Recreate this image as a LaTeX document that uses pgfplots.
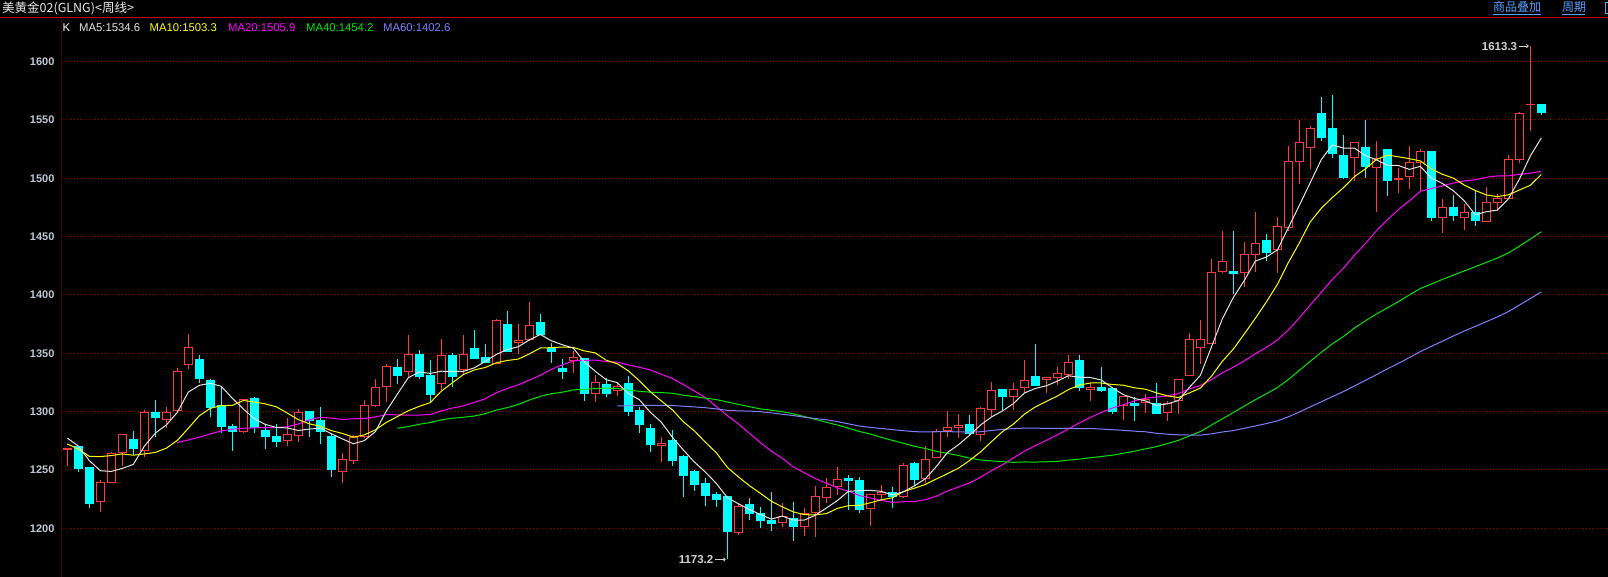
\documentclass[border=0pt]{standalone}
\usepackage{fontspec}
\setmainfont{Liberation Sans}
\newfontfamily\cjk{Noto Sans CJK SC}
\usepackage{pgfplots}
\usepackage{pgfplotstable}
\pgfplotsset{compat=1.18}
\usetikzlibrary{arrows.meta}

\definecolor{upred}{RGB}{255,59,59}
\definecolor{dncyan}{RGB}{0,255,255}
\definecolor{mafive}{RGB}{230,230,230}
\definecolor{maten}{RGB}{255,255,0}
\definecolor{matwenty}{RGB}{255,0,255}
\definecolor{maforty}{RGB}{0,230,0}
\definecolor{masixty}{RGB}{128,128,255}
\definecolor{gridred}{RGB}{150,0,0}
\definecolor{axisred}{RGB}{190,0,0}
\definecolor{ticklab}{RGB}{192,200,214}
\definecolor{linkblue}{RGB}{90,160,255}
\definecolor{annogray}{RGB}{210,210,210}

\pgfplotstableread{
i O H L C
0 1267.5 1268.5 1253.0 1268.0
1 1269.8 1270.6 1248.0 1251.3
2 1251.8 1252.0 1217.0 1221.2
3 1223.1 1241.4 1214.3 1238.9
4 1239.4 1265.0 1239.0 1264.3
5 1264.9 1281.0 1253.7 1280.6
6 1276.3 1283.4 1262.6 1268.3
7 1266.6 1301.4 1260.9 1299.4
8 1299.4 1310.0 1278.6 1294.9
9 1293.4 1303.7 1285.7 1299.4
10 1301.1 1337.1 1301.0 1334.6
11 1340.6 1366.6 1336.6 1355.1
12 1344.9 1348.6 1324.3 1328.3
13 1326.9 1327.7 1295.7 1303.4
14 1304.9 1322.0 1282.0 1287.1
15 1287.1 1289.4 1266.6 1282.9
16 1282.9 1310.6 1282.0 1310.0
17 1310.9 1312.9 1282.0 1286.3
18 1283.4 1289.1 1268.3 1278.6
19 1278.3 1289.1 1270.0 1274.3
20 1274.9 1294.3 1270.9 1280.6
21 1279.7 1302.3 1274.3 1299.4
22 1300.3 1300.6 1278.6 1292.0
23 1292.0 1303.7 1272.3 1282.9
24 1278.3 1281.4 1244.3 1250.3
25 1248.9 1264.7 1238.7 1258.5
26 1257.9 1280.2 1255.1 1278.2
27 1278.6 1310.0 1278.0 1305.4
28 1305.4 1328.0 1304.3 1320.9
29 1321.4 1340.9 1308.6 1338.9
30 1337.4 1345.1 1323.7 1330.9
31 1334.6 1365.7 1329.4 1349.1
32 1349.1 1352.9 1327.7 1330.0
33 1331.1 1344.3 1307.1 1314.6
34 1324.3 1362.3 1318.6 1348.3
35 1348.3 1350.6 1321.4 1330.0
36 1335.7 1365.7 1331.4 1349.1
37 1354.3 1370.0 1345.4 1345.4
38 1346.6 1357.7 1341.4 1342.0
39 1341.4 1379.4 1341.0 1378.3
40 1374.3 1386.3 1351.4 1351.4
41 1359.1 1375.1 1349.4 1361.1
42 1362.0 1394.0 1360.9 1374.0
43 1376.0 1383.7 1365.7 1365.7
44 1353.7 1358.6 1342.0 1351.4
45 1337.1 1345.1 1328.0 1334.3
46 1344.0 1352.0 1333.4 1346.6
47 1345.1 1345.1 1309.4 1315.1
48 1315.1 1331.4 1308.6 1325.1
49 1322.9 1328.6 1312.9 1315.4
50 1318.0 1324.9 1313.4 1321.7
51 1323.7 1330.6 1296.3 1300.0
52 1300.6 1303.7 1281.4 1288.6
53 1285.1 1289.4 1265.7 1271.4
54 1270.9 1278.0 1257.1 1272.9
55 1274.9 1284.3 1253.7 1257.7
56 1261.4 1262.9 1227.1 1245.1
57 1248.6 1250.0 1232.3 1237.1
58 1238.0 1242.9 1219.4 1228.0
59 1228.6 1230.9 1218.6 1224.3
60 1226.9 1226.9 1173.2 1197.1
61 1196.3 1221.4 1194.3 1218.3
62 1220.0 1225.7 1207.1 1212.9
63 1212.3 1218.0 1200.6 1206.6
64 1206.3 1231.4 1198.0 1204.0
65 1205.1 1221.4 1200.9 1210.0
66 1208.6 1222.9 1189.4 1201.4
67 1201.4 1217.1 1193.4 1212.9
68 1213.4 1236.3 1192.3 1227.1
69 1226.6 1242.9 1222.0 1235.1
70 1235.7 1252.9 1228.6 1242.0
71 1242.9 1245.7 1215.7 1240.9
72 1240.6 1243.7 1213.4 1215.7
73 1216.5 1229.0 1202.3 1228.9
74 1228.9 1237.4 1224.0 1230.3
75 1230.9 1235.1 1217.1 1227.1
76 1227.1 1255.7 1226.3 1254.0
77 1255.7 1256.6 1237.1 1241.4
78 1242.9 1270.6 1238.6 1259.1
79 1260.9 1284.9 1260.0 1282.9
80 1283.4 1300.6 1278.0 1286.6
81 1286.6 1297.7 1277.1 1287.7
82 1288.6 1297.1 1279.1 1281.4
83 1280.6 1303.7 1275.1 1302.9
84 1302.0 1325.7 1295.7 1317.7
85 1318.6 1318.6 1301.4 1312.9
86 1312.9 1324.3 1301.4 1319.1
87 1320.6 1344.3 1315.7 1326.9
88 1329.7 1358.0 1322.3 1322.3
89 1327.7 1329.1 1316.3 1329.1
90 1329.1 1338.6 1322.9 1332.9
91 1332.0 1348.6 1328.0 1342.3
92 1343.4 1348.6 1318.0 1320.9
93 1319.1 1324.3 1309.4 1320.9
94 1320.9 1338.0 1317.1 1318.0
95 1319.4 1319.4 1298.0 1300.0
96 1305.4 1312.9 1292.9 1312.9
97 1307.1 1312.3 1291.7 1304.9
98 1308.0 1315.1 1298.9 1310.0
99 1307.1 1324.6 1298.0 1298.0
100 1298.9 1309.4 1291.7 1307.1
101 1309.4 1328.0 1298.0 1327.1
102 1330.6 1367.4 1330.6 1361.4
103 1355.1 1378.6 1340.9 1361.4
104 1358.6 1430.9 1358.6 1418.9
105 1420.3 1455.1 1418.6 1428.9
106 1420.0 1455.1 1400.9 1418.6
107 1418.9 1445.1 1406.6 1434.3
108 1434.6 1471.4 1420.0 1444.3
109 1446.6 1452.3 1429.4 1436.6
110 1438.6 1466.6 1418.6 1458.6
111 1458.0 1528.0 1455.1 1514.3
112 1514.3 1550.0 1495.1 1530.3
113 1526.0 1544.6 1508.0 1542.3
114 1555.1 1570.0 1531.7 1535.1
115 1542.3 1571.7 1517.4 1520.9
116 1519.1 1537.4 1499.4 1500.9
117 1517.4 1530.3 1497.4 1530.3
118 1526.0 1550.3 1500.0 1510.3
119 1508.9 1532.3 1470.9 1516.6
120 1524.6 1524.6 1485.1 1498.0
121 1499.0 1508.9 1487.1 1499.4
122 1501.7 1528.0 1490.9 1513.7
123 1513.7 1525.1 1489.4 1523.1
124 1522.9 1523.7 1463.1 1466.6
125 1466.0 1482.3 1453.1 1475.1
126 1474.6 1486.0 1463.1 1468.0
127 1466.6 1478.0 1456.0 1470.3
128 1470.9 1489.4 1459.4 1463.7
129 1463.1 1492.3 1462.3 1479.4
130 1479.4 1486.6 1472.3 1482.3
131 1482.3 1520.3 1482.3 1515.7
132 1515.7 1556.6 1512.9 1555.1
133 1563.1 1613.3 1540.3 1563.5
134 1563.1 1563.1 1554.6 1556.6
}\kdata

\pgfplotstableread{
i m5 m10 m20 m40 m60
0 1277.3 1272.2 nan nan nan
1 1270.5 1267.9 nan nan nan
2 1258.0 1261.6 nan nan nan
3 1249.3 1261.4 nan nan nan
4 1248.7 1262.3 nan nan nan
5 1251.3 1263.7 nan nan nan
6 1254.7 1262.6 nan nan nan
7 1270.3 1263.7 nan nan nan
8 1281.5 1265.0 nan nan nan
9 1288.5 1268.6 nan nan nan
10 1299.3 1275.3 1273.4 nan nan
11 1316.7 1285.7 1275.7 nan nan
12 1322.5 1296.4 1278.0 nan nan
13 1324.2 1302.8 1280.9 nan nan
14 1321.7 1305.1 1283.4 nan nan
15 1311.4 1305.3 1284.9 nan nan
16 1302.3 1309.5 1285.7 nan nan
17 1293.9 1308.2 1286.0 nan nan
18 1289.0 1306.6 1286.3 nan nan
19 1286.4 1304.1 1286.3 nan nan
20 1286.0 1298.7 1287.0 nan nan
21 1283.8 1293.1 1289.4 nan nan
22 1285.0 1289.5 1292.9 nan nan
23 1285.8 1287.4 1295.1 nan nan
24 1281.0 1283.7 1294.4 nan nan
25 1276.6 1281.3 1293.3 nan nan
26 1272.4 1278.1 1293.8 nan nan
27 1275.1 1280.0 1294.1 nan nan
28 1282.7 1284.3 1295.4 nan nan
29 1300.4 1290.7 1297.4 nan nan
30 1314.9 1295.7 1297.2 1285.7 nan
31 1329.0 1300.7 1296.9 1287.1 nan
32 1334.0 1304.5 1297.0 1289.1 nan
33 1332.7 1307.7 1297.5 1290.6 nan
34 1334.6 1317.5 1300.6 1292.9 nan
35 1334.4 1324.6 1303.0 1294.3 nan
36 1334.4 1331.7 1304.9 1295.1 nan
37 1337.5 1335.7 1307.9 1296.2 nan
38 1343.0 1337.8 1311.0 1298.2 nan
39 1349.0 1341.8 1316.2 1301.3 nan
40 1353.2 1343.8 1319.8 1303.4 nan
41 1355.6 1345.0 1322.9 1306.1 nan
42 1361.4 1349.4 1327.0 1309.9 nan
43 1366.1 1354.5 1331.1 1313.1 nan
44 1360.7 1354.8 1336.2 1315.3 nan
45 1357.3 1355.3 1340.0 1316.6 nan
46 1354.4 1355.0 1343.4 1318.6 nan
47 1342.6 1352.0 1343.9 1319.0 nan
48 1334.5 1350.3 1344.1 1319.7 nan
49 1327.3 1344.0 1342.9 1320.1 nan
50 1324.8 1341.0 1342.4 1319.8 1304.9
51 1315.5 1334.9 1340.0 1318.4 1305.0
52 1310.2 1326.4 1337.9 1317.4 1305.2
53 1299.4 1317.0 1335.7 1316.6 1305.3
54 1290.9 1309.1 1332.0 1316.3 1305.4
55 1278.1 1301.5 1328.4 1315.7 1305.2
56 1267.1 1291.3 1323.2 1314.0 1304.6
57 1256.8 1283.5 1317.7 1312.8 1304.0
58 1248.2 1273.8 1312.0 1311.5 1303.3
59 1238.4 1264.7 1304.3 1310.3 1302.3
60 1226.3 1252.2 1296.6 1308.2 1301.1
61 1221.0 1244.1 1289.5 1306.2 1300.6
62 1216.1 1236.5 1281.4 1304.2 1300.4
63 1211.8 1230.0 1273.5 1302.3 1299.9
64 1207.8 1223.1 1266.1 1301.1 1298.9
65 1210.4 1218.3 1259.9 1299.9 1297.7
66 1207.0 1214.0 1252.6 1298.0 1296.6
67 1207.0 1211.6 1247.5 1295.7 1295.2
68 1211.1 1211.5 1242.6 1293.3 1294.0
69 1217.3 1212.5 1238.6 1290.8 1293.0
70 1223.7 1217.0 1234.6 1288.5 1291.4
71 1231.6 1219.3 1231.7 1285.8 1289.5
72 1232.2 1219.6 1228.0 1283.0 1287.6
73 1232.5 1221.8 1225.9 1280.8 1286.4
74 1231.6 1224.4 1223.8 1277.9 1285.5
75 1228.6 1226.1 1222.2 1275.3 1284.5
76 1231.2 1231.4 1222.7 1272.9 1283.6
77 1236.3 1234.3 1222.9 1270.3 1282.8
78 1242.4 1237.5 1224.5 1268.3 1282.5
79 1252.9 1242.2 1227.4 1265.9 1282.7
80 1264.8 1246.7 1231.9 1264.2 1282.8
81 1271.5 1251.4 1235.3 1262.4 1282.6
82 1279.5 1257.9 1238.8 1260.1 1282.4
83 1288.3 1265.3 1243.6 1258.5 1282.7
84 1295.3 1274.1 1249.3 1257.7 1283.8
85 1300.5 1282.7 1254.4 1257.1 1284.7
86 1306.8 1289.2 1260.3 1256.5 1285.4
87 1315.9 1297.7 1266.0 1256.8 1285.8
88 1319.8 1304.0 1270.7 1256.7 1285.8
89 1322.1 1308.7 1275.4 1257.0 1285.6
90 1326.1 1313.3 1280.0 1257.3 1285.7
91 1330.7 1318.8 1285.1 1258.4 1285.6
92 1329.5 1322.7 1290.3 1259.2 1285.4
93 1329.2 1324.5 1294.9 1260.4 1285.5
94 1327.0 1324.5 1299.3 1261.5 1285.0
95 1320.4 1323.2 1303.0 1262.6 1284.5
96 1314.5 1322.6 1305.9 1264.3 1283.9
97 1311.3 1320.4 1309.1 1266.0 1283.2
98 1309.2 1319.2 1311.6 1268.0 1282.7
99 1305.2 1316.1 1312.4 1269.9 1281.4
100 1306.6 1313.5 1313.4 1272.6 1280.6
101 1309.4 1312.0 1315.4 1275.3 1280.1
102 1320.7 1316.0 1319.4 1279.1 1279.9
103 1331.0 1320.1 1322.3 1282.9 1279.8
104 1355.2 1330.2 1327.4 1288.3 1280.9
105 1379.5 1343.1 1333.2 1293.8 1282.5
106 1397.8 1353.6 1338.1 1299.2 1283.7
107 1412.4 1366.6 1343.5 1304.7 1285.7
108 1429.0 1380.0 1349.6 1310.2 1287.7
109 1432.5 1393.9 1355.0 1315.2 1289.7
110 1438.5 1409.0 1361.3 1320.6 1292.0
111 1457.6 1427.7 1369.9 1327.5 1295.5
112 1476.8 1444.6 1380.3 1335.3 1299.6
113 1496.4 1462.7 1391.4 1343.2 1304.1
114 1516.1 1474.3 1402.3 1350.8 1308.4
115 1528.6 1483.5 1413.3 1358.1 1312.8
116 1525.9 1491.8 1422.7 1364.3 1317.1
117 1525.9 1501.4 1434.0 1371.5 1322.0
118 1519.5 1508.0 1444.0 1377.8 1326.7
119 1515.8 1516.0 1454.9 1383.6 1331.6
120 1511.2 1519.9 1464.5 1388.9 1336.6
121 1510.9 1518.4 1473.1 1394.2 1341.3
122 1507.6 1516.8 1480.7 1400.0 1346.3
123 1510.2 1514.8 1488.8 1405.5 1351.5
124 1500.2 1508.0 1491.2 1409.3 1355.9
125 1495.6 1503.4 1493.5 1413.3 1360.3
126 1489.3 1500.1 1495.9 1417.0 1364.8
127 1480.6 1494.1 1497.7 1420.6 1369.1
128 1468.7 1489.5 1498.7 1424.2 1373.0
129 1471.3 1485.7 1500.8 1427.9 1377.1
130 1472.7 1484.2 1502.0 1431.6 1381.1
131 1482.3 1485.8 1502.1 1436.0 1385.7
132 1499.2 1489.9 1503.3 1441.8 1391.3
133 1519.2 1494.0 1504.4 1447.9 1396.9
134 1534.6 1503.3 1505.9 1454.2 1402.6
}\madata

\newcommand\upcandle[1]{%
  \addplot[upred, line width=1pt, forget plot] coordinates {(#1,\vL) (#1,\vO)};
  \addplot[upred, line width=1pt, forget plot] coordinates {(#1,\vC) (#1,\vH)};
  \addplot[upred, line width=1pt, fill=none, forget plot] coordinates {(\xl,\vO) (\xr,\vO) (\xr,\vC) (\xl,\vC)} -- cycle;
}
\newcommand\downcandle[1]{%
  \addplot[dncyan, line width=1pt, forget plot] coordinates {(#1,\vL) (#1,\vH)};
  \addplot[dncyan, line width=1pt, fill=dncyan, forget plot] coordinates {(\xl,\vO) (\xr,\vO) (\xr,\vC) (\xl,\vC)} -- cycle;
}
\newcommand\candle[1]{%
  \pgfplotstablegetelem{#1}{O}\of\kdata\let\vO\pgfplotsretval
  \pgfplotstablegetelem{#1}{H}\of\kdata\let\vH\pgfplotsretval
  \pgfplotstablegetelem{#1}{L}\of\kdata\let\vL\pgfplotsretval
  \pgfplotstablegetelem{#1}{C}\of\kdata\let\vC\pgfplotsretval
  \pgfmathsetmacro\xl{#1-0.36}%
  \pgfmathsetmacro\xr{#1+0.36}%
  \pgfmathparse{\vC>=\vO?1:0}%
  \ifdim\pgfmathresult pt>0.5pt\def\next{\upcandle{#1}}\else\def\next{\downcandle{#1}}\fi
  \next}

\begin{document}
\begin{tikzpicture}
\useasboundingbox (0pt,0pt) rectangle (1608pt,577pt);
\fill[black] (0pt,0pt) rectangle (1608pt,577pt);
\begin{axis}[
  at={(61.5pt,0pt)}, anchor=south west,
  width=1546.5pt, height=559.6pt, scale only axis,
  xmin=-0.527, xmax=140.06, ymin=1158.2, ymax=1637.9,
  axis line style={draw=none},
  xtick=\empty,
  ytick={1200,1250,...,1600},
  yticklabels={1200,1250,1300,1350,1400,1450,1500,1550,1600},
  major tick length=0pt,
  ymajorgrids,
  grid style={gridred, line width=1pt, dash pattern=on 1pt off 2pt},
  yticklabel style={font=\fontsize{11}{12}\bfseries\selectfont, text=ticklab, xshift=-3.5pt},
]
\pgfplotsinvokeforeach{0,...,134}{\candle{#1}}
\addplot[matwenty, line width=1pt, unbounded coords=jump] table[x=i,y=m20]{\madata};
\addplot[maforty, line width=1pt, unbounded coords=jump] table[x=i,y=m40]{\madata};
\addplot[masixty, line width=1pt, unbounded coords=jump] table[x=i,y=m60]{\madata};
\addplot[maten, line width=1pt, unbounded coords=jump] table[x=i,y=m10]{\madata};
\addplot[mafive, line width=1pt, unbounded coords=jump] table[x=i,y=m5]{\madata};
\node[anchor=east, inner sep=1.5pt, text=annogray, font=\fontsize{11.5}{13}\bfseries\selectfont] at (axis cs:131.95,1613.3) {1613.3};
\draw[annogray, line width=0.8pt, -{To[length=2.5pt,width=4pt]}] (axis cs:131.95,1613.3) -- (axis cs:132.85,1613.3);
\node[anchor=east, inner sep=1.5pt, text=annogray, font=\fontsize{11.5}{13}\bfseries\selectfont] at (axis cs:58.88,1173.2) {1173.2};
\draw[annogray, line width=0.8pt, -{To[length=2.5pt,width=4pt]}] (axis cs:58.88,1173.2) -- (axis cs:59.85,1173.2);
\draw[axisred, line width=1pt] (axis description cs:0,0) -- (axis description cs:0,1);
\end{axis}
\draw[axisred, line width=1pt] (0pt,559.6pt) -- (1608pt,559.6pt);
% header
\node[anchor=base west, inner sep=0pt, text={rgb,255:red,235;green,235;blue,235}] at (2pt,564.5pt) {\cjk\fontsize{12.5}{14}\selectfont 美黄金02(GLNG)<周线>};
\node[anchor=base west, inner sep=0pt, text=linkblue] at (1493pt,565.5pt) {\cjk\fontsize{12}{14}\selectfont 商品叠加};
\draw[linkblue, line width=0.8pt] (1493pt,563pt) -- (1541pt,563pt);
\node[anchor=base west, inner sep=0pt, text=linkblue] at (1562pt,565.5pt) {\cjk\fontsize{12}{14}\selectfont 周期};
\draw[linkblue, line width=0.8pt] (1562pt,563pt) -- (1585pt,563pt);
\draw[linkblue, line width=0.8pt] (1605pt,563.5pt) rectangle (1615pt,574.5pt);
% MA legend
\begin{scope}[every node/.style={anchor=base west, inner sep=0pt, font=\fontsize{11.3}{13}\selectfont}]
\node[text=white] at (62.5pt,545.3pt) {K};
\node[text=mafive] at (79pt,545.3pt) {MA5:1534.6};
\node[text=maten] at (149.5pt,545.3pt) {MA10:1503.3};
\node[text=matwenty] at (228pt,545.3pt) {MA20:1505.9};
\node[text=maforty] at (306pt,545.3pt) {MA40:1454.2};
\node[text=masixty] at (383pt,545.3pt) {MA60:1402.6};
\end{scope}
\end{tikzpicture}
\end{document}
